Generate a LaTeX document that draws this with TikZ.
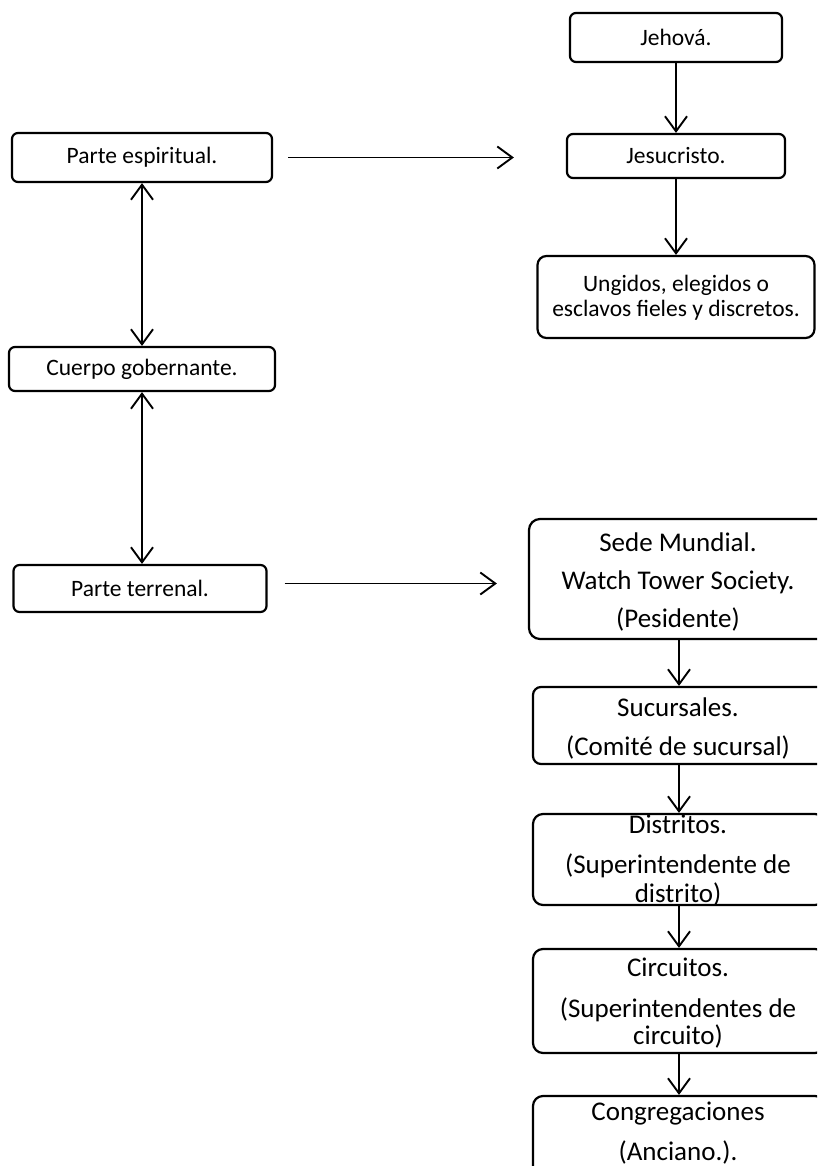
\documentclass[tikz,border=0pt]{standalone}
\usepackage{fontspec}
\setmainfont{Carlito}
\usetikzlibrary{arrows.meta}
\begin{document}
\begin{tikzpicture}[x=1pt,y=-1pt,
  box/.style={draw, line width=2.2pt, rounded corners=6pt, inner sep=0pt},
  txt/.style={font=\fontsize{23.5}{28}\selectfont, align=center, inner sep=0pt},
  bigtxt/.style={font=\fontsize{27}{29.5}\selectfont, align=center, inner sep=0pt},
  arr/.style={line width=1.9pt, -{Straight Barb[length=15pt,width=22pt,line width=1.9pt]}},
  darr/.style={line width=1.9pt, {Straight Barb[length=15pt,width=22pt,line width=1.9pt]}-{Straight Barb[length=15pt,width=22pt,line width=1.9pt]}}]
\useasboundingbox (0,0) rectangle (817,1166);
\clip (0,0) rectangle (817,1166);
% boxes
\node[box, minimum width=212pt, minimum height=49pt] (jeh) at (676,37.5) {};
\node[box, minimum width=218pt, minimum height=44pt] (jesu) at (676,156) {};
\node[box, rounded corners=9pt, minimum width=277pt, minimum height=82pt] (ung) at (676,297) {};
\node[box, minimum width=260pt, minimum height=49pt] (esp) at (142,157.5) {};
\node[box, minimum width=266pt, minimum height=44pt] (cue) at (142,369) {};
\node[box, minimum width=253pt, minimum height=47pt] (ter) at (140,588.5) {};
\node[box, rounded corners=11pt, minimum width=300pt, minimum height=120pt] (sede) at (679,579) {};
\node[box, rounded corners=8pt, minimum width=292pt, minimum height=77pt] (suc) at (679,725.5) {};
\node[box, rounded corners=10pt, minimum width=292pt, minimum height=91pt] (dis) at (679,859.5) {};
\node[box, rounded corners=10pt, minimum width=292pt, minimum height=104pt] (cir) at (679,1001) {};
\node[box, rounded corners=10pt, minimum width=292pt, minimum height=94pt] (con) at (679,1143) {};
% texts
\node[txt] (jehT) at (676,37.5) {Jehová.};
\node[txt] (jesuT) at (676,156) {Jesucristo.};
\node[txt] (ungT) at (676,298) {Ungidos, elegidos o\\[-3pt]esclavos fieles y discretos.};
\node[txt] (espT) at (142,157.5) {Parte espiritual.};
\node[txt] (cueT) at (142,369) {Cuerpo gobernante.};
\node[txt] (terT) at (140,588.5) {Parte terrenal.};
\node[bigtxt] (sedeT) at (678,582) {Sede Mundial.\\[8pt]Watch Tower Society.\\[8.5pt](Pesidente)};
\node[bigtxt] (sucT) at (678,728.5) {Sucursales.\\[9.5pt](Comité de sucursal)};
\node[bigtxt] (disT) at (678,860.5) {Distritos.\\[10.5pt](Superintendente de\\distrito)};
\node[bigtxt] (cirT) at (678,1003.5) {Circuitos.\\[11pt](Superintendentes de\\[-2pt]circuito)};
\node[bigtxt] (conT) at (678,1133.5) {Congregaciones\\[10.5pt](Anciano.).};
% connectors
\draw[arr] (jeh.south) -- (jesu.north);
\draw[arr] (jesu.south) -- (ung.north);
\draw[darr] (esp.south) -- (cue.north);
\draw[darr] (cue.south) -- (cue.south |- ter.north);
\draw[arr, shorten <=15pt, shorten >=52pt] (esp.east) -- (esp.east -| jesu.west);
\draw[arr, shorten <=17pt, shorten >=31pt] ([yshift=5pt]ter.east) -- ([yshift=5pt]ter.east -| sede.west);
\draw[arr] (sede.south) -- (suc.north);
\draw[arr] (suc.south) -- (dis.north);
\draw[arr] (dis.south) -- (cir.north);
\draw[arr] (cir.south) -- (con.north);
\end{tikzpicture}
\end{document}
